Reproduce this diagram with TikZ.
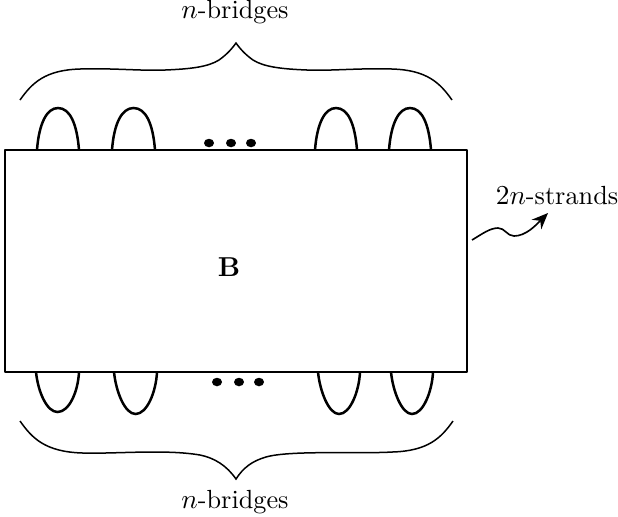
\documentclass[tikz,border=0pt]{standalone}
\usepackage{amsmath,amssymb}
\usepackage{xcolor}
\usepackage{tikz}
\usetikzlibrary{calc,arrows.meta,shapes.geometric}
\tikzset{
  base/.style={draw=black, line width=0.6pt, line cap=round, line join=round},
  strand/.style={draw=black, line width=1pt, line cap=butt},
  brace/.style={draw=black, line width=0.6pt, line cap=butt},
  wavy/.style={draw=black, line width=0.65pt, -{Stealth[length=6.5pt,width=5.4pt]}},
  dot/.style={ellipse, fill=black, inner sep=0pt, minimum width=4pt, minimum height=3.4pt},
  lab/.style={text=black, inner sep=0pt, font=\fontsize{10.5}{12}\selectfont},
}
\begin{document}
\begin{tikzpicture}[x=0.4pt,y=-0.4pt]
  \useasboundingbox (0,0) rectangle (618,516);
  \coordinate (BL) at (5,372);
  \coordinate (TR) at (467,150);
  % bridges
  \foreach \a/\b in {37/79,112/155,315/357,389/431}{
    \draw[strand] (\a,150) .. controls ({\a+2},123) and ({\a+10},108) .. ({(\a+\b)/2},108)
      .. controls ({\b-9},108) and ({\b-2},124) .. (\b,150);
  }
  \foreach \a/\b/\d in {36/79/412,114/157/414,318/360/414,391/433/414}{
    \draw[strand] (\a,372) .. controls ({\a+2},392) and ({\a+11},\d) .. ({(\a+\b)/2},\d)
      .. controls ({\b-10},\d) and ({\b-1},392) .. (\b,372);
  }
  \draw[base] (BL) rectangle (TR);
  \node[lab] (B) at (229,267) {$\mathbf{B}$};
  % dots
  \foreach \x in {209,231,251}{
    \node[dot] at (\x,143) {};
  }
  \foreach \x in {217,239,259}{
    \node[dot] at (\x,382) {};
  }
  % top brace
  \draw[brace] (20,100) .. controls (32,83) and (45,70) .. (80,69)
    .. controls (115,68) and (140,71) .. (165,70) .. controls (190,69) and (208,67) .. (219,60)
    .. controls (226,55) and (231,50) .. (236,43)
    .. controls (241,50) and (246,55) .. (253,60) .. controls (264,67) and (282,69) .. (307,70)
    .. controls (332,71) and (357,68) .. (392,69) .. controls (427,70) and (440,83) .. (452,100);
  % bottom brace
  \draw[brace] (20,421) .. controls (32,438) and (45,452) .. (83,453)
    .. controls (115,454) and (165,449) .. (200,455) .. controls (215,458) and (227,466) .. (236,479)
    .. controls (243,468) and (252,461) .. (266,457) .. controls (290,450) and (360,454) .. (392,452)
    .. controls (428,451) and (441,438) .. (453,421);
  \node[lab] (TopLab) at (235,12) {$n$-bridges};
  \node[lab] (BotLab) at (235,502) {$n$-bridges};
  \node[lab] (StrandLab) at (557,196) {$2n$-strands};
  \coordinate (WavyA) at (472,240);
  \coordinate (WavyB) at (548,213);
  \draw[wavy] (WavyA) .. controls (482,234) and (490,228) .. (498,228)
    .. controls (505,228) and (507,236) .. (514,236) .. controls (526,236) and (536,225) .. (WavyB);
\end{tikzpicture}
\end{document}
